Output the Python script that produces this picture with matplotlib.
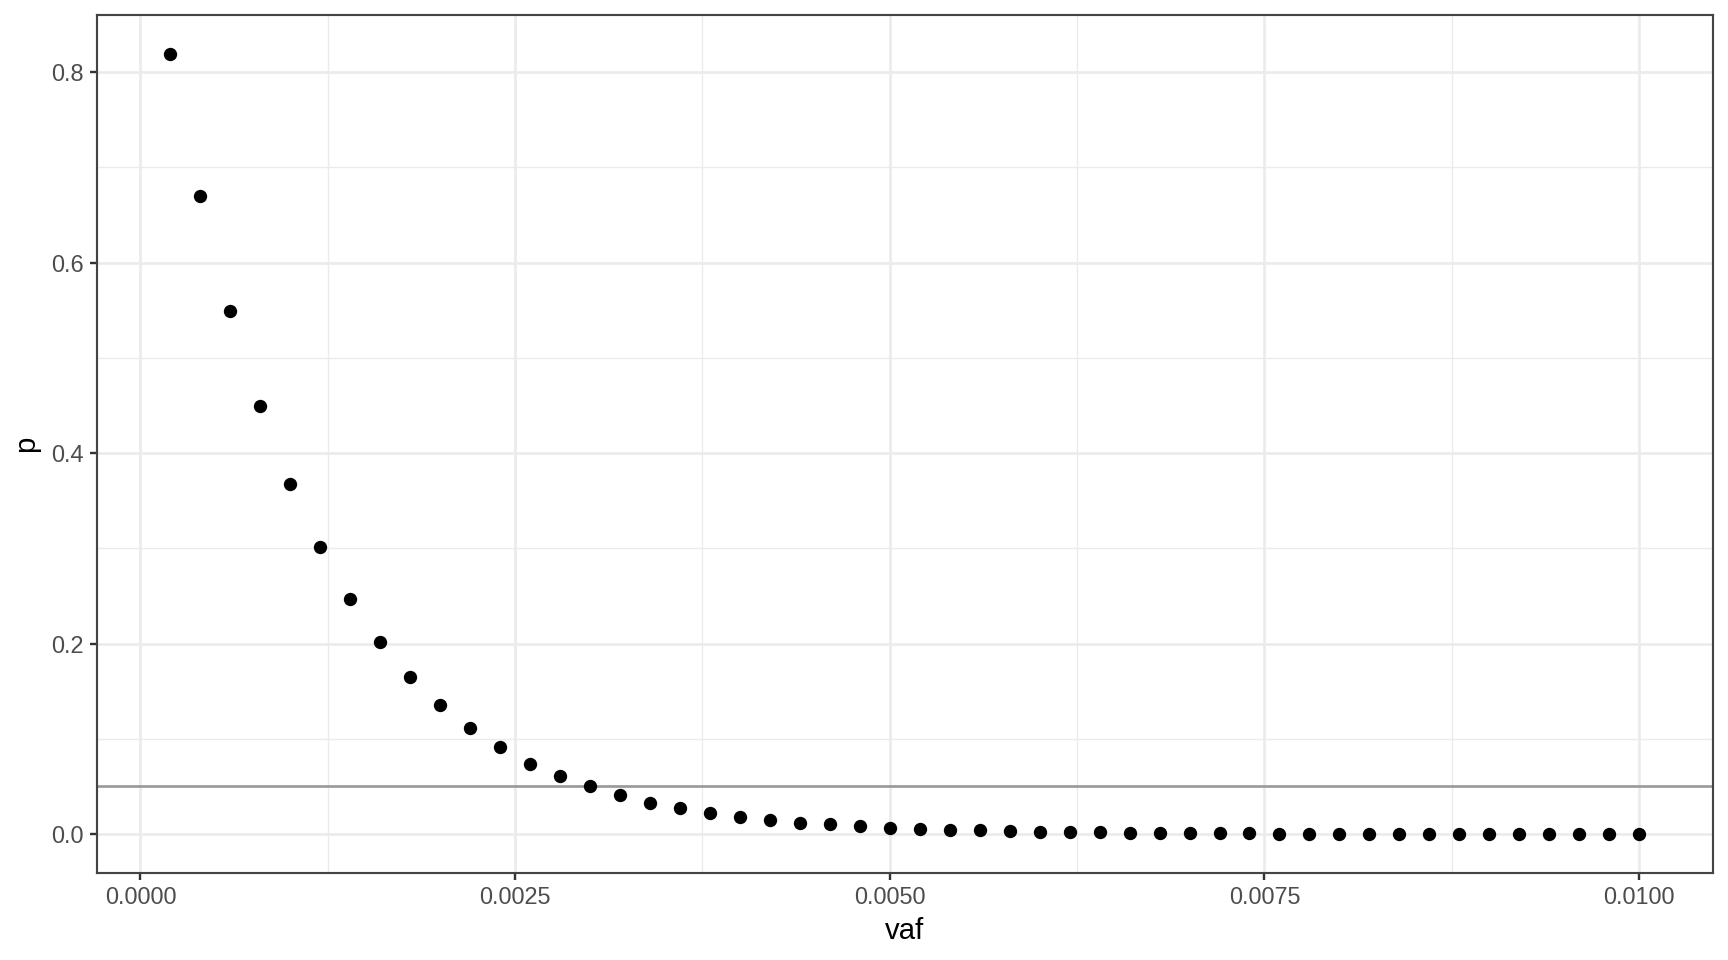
import matplotlib.pyplot as plt
from matplotlib.ticker import FixedLocator

plt.rcParams['font.family'] = ['Liberation Sans', 'DejaVu Sans']

# data
vaf = [0.0002, 0.0004, 0.0006, 0.0008, 0.0010, 0.0012, 0.0014, 0.0016, 0.0018, 0.0020,
       0.0022, 0.0024, 0.0026, 0.0028, 0.0030, 0.0032, 0.0034, 0.0036, 0.0038, 0.0040,
       0.0042, 0.0044, 0.0046, 0.0048, 0.0050, 0.0052, 0.0054, 0.0056, 0.0058, 0.0060,
       0.0062, 0.0064, 0.0066, 0.0068, 0.0070, 0.0072, 0.0074, 0.0076, 0.0078, 0.0080,
       0.0082, 0.0084, 0.0086, 0.0088, 0.0090, 0.0092, 0.0094, 0.0096, 0.0098, 0.0100]
p = [0.819, 0.670, 0.549, 0.449, 0.368, 0.301, 0.247, 0.202, 0.165, 0.135,
     0.111, 0.091, 0.074, 0.061, 0.050, 0.041, 0.033, 0.027, 0.022, 0.018,
     0.015, 0.012, 0.010, 0.008, 0.0067, 0.0055, 0.0045, 0.0037, 0.0030, 0.0025,
     0.0020, 0.0017, 0.0014, 0.0011, 0.0009, 0.0007, 0.0006, 0.0005, 0.0004, 0.0003,
     0.0003, 0.0002, 0.0002, 0.0002, 0.0001, 0.0001, 0.0001, 0.0001, 0.0001, 0.0000]
threshold = 0.05

x_ticks = [0.0, 0.0025, 0.005, 0.0075, 0.01]
x_labels = ["0.0000", "0.0025", "0.0050", "0.0075", "0.0100"]
y_ticks = [0.0, 0.2, 0.4, 0.6, 0.8]
y_labels = ["0.0", "0.2", "0.4", "0.6", "0.8"]

fig = plt.figure(figsize=(9, 5), dpi=192)
ax = fig.add_axes([0.0561, 0.0906, 0.935, 0.8938])

ax.plot(vaf, p, 'o', color='black', markersize=5.0, markeredgewidth=0, zorder=3)
ax.axhline(threshold, color='#999999', linewidth=1.0, zorder=2)

xr = max(vaf) - min(vaf)
ax.set_xlim(min(vaf) - 0.05 * xr, max(vaf) + 0.05 * xr)
yr = max(p) - min(p)
ax.set_ylim(min(p) - 0.05 * yr, max(p) + 0.05 * yr)

ax.set_xticks(x_ticks)
ax.set_xticklabels(x_labels)
ax.set_yticks(y_ticks)
ax.set_yticklabels(y_labels)
ax.xaxis.set_minor_locator(FixedLocator([0.00125, 0.00375, 0.00625, 0.00875]))
ax.yaxis.set_minor_locator(FixedLocator([0.1, 0.3, 0.5, 0.7]))

ax.grid(which='major', color='#EBEBEB', linewidth=1.0, zorder=0)
ax.grid(which='minor', color='#EBEBEB', linewidth=0.5, zorder=0)
ax.set_axisbelow(True)

for s in ax.spines.values():
    s.set_color('#444444')
    s.set_linewidth(0.8)

ax.tick_params(which='major', length=2.75, width=0.9, color='#333333',
               labelsize=8.8, labelcolor='#4D4D4D', pad=2.2)
ax.tick_params(which='minor', length=0)

ax.set_xlabel('vaf', fontsize=11, labelpad=3)
ax.set_ylabel('p', fontsize=11, labelpad=4)

fig.savefig('out.png', dpi=192, facecolor='white')
